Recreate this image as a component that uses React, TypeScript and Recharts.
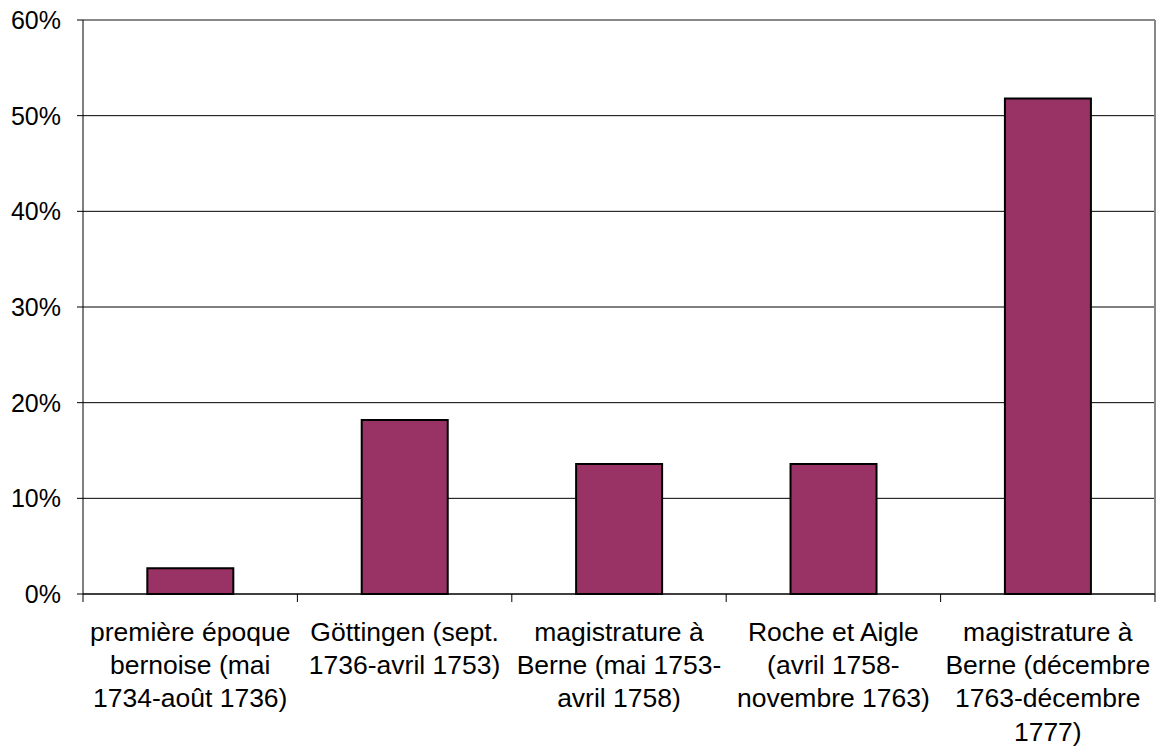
import React from 'react';
import { BarChart, Bar, XAxis, YAxis, CartesianGrid } from 'recharts';

const categories = [
  ['première époque', 'bernoise (mai', '1734-août 1736)'],
  ['Göttingen (sept.', '1736-avril 1753)'],
  ['magistrature à', 'Berne (mai 1753-', 'avril 1758)'],
  ['Roche et Aigle', '(avril 1758-', 'novembre 1763)'],
  ['magistrature à', 'Berne (décembre', '1763-décembre', '1777)'],
];
const values = [2.7, 18.2, 13.6, 13.6, 51.8];
const yTicks = [0, 10, 20, 30, 40, 50, 60];

const data = categories.map((lines, i) => ({ name: String(i), value: values[i] }));

const FONT = '"Liberation Sans", Arial, sans-serif';

const CatTick = (props: any) => {
  const { x, y, payload, index, visibleTicksCount } = props;
  const half = payload?.offset ?? 0;
  const lines = categories[Number(payload.value)] || [];
  const last = index === (visibleTicksCount ?? categories.length) - 1;
  return (
    <g>
      <line x1={x - half} x2={x - half} y1={y} y2={y + 8} stroke="#000" strokeWidth={1} />
      {last && <line x1={x + half} x2={x + half} y1={y} y2={y + 8} stroke="#000" strokeWidth={1} />}
      {lines.map((t: string, i: number) => (
        <text key={i} x={x} y={y + 47 + i * 33.2} textAnchor="middle" fill="#000" fontSize={26.5} fontFamily={FONT}>
          {t}
        </text>
      ))}
    </g>
  );
};

export default function App() {
  return (
    <div style={{ position: 'absolute', left: 0, top: 0, background: '#fff' }}>
      <BarChart width={1160} height={747} data={data} margin={{ top: 20, right: 5, left: 0, bottom: 0 }} barCategoryGap="30%">
        <CartesianGrid vertical={false} stroke="#000" strokeWidth={1} />
        <CartesianGrid
          stroke="#888"
          strokeWidth={2}
          horizontalCoordinatesGenerator={({ offset }: any) => [offset.top]}
          verticalCoordinatesGenerator={({ offset }: any) => [offset.left + offset.width]}
        />
        <XAxis
          dataKey="name"
          height={153}
          tickSize={0}
          tickMargin={0}
          tickLine={false}
          axisLine={{ stroke: '#000', strokeWidth: 1 }}
          tick={<CatTick />}
          interval={0}
        />
        <YAxis
          width={83}
          domain={[0, 60]}
          ticks={yTicks}
          tickFormatter={(v: number) => `${v}%`}
          tickSize={6}
          tickMargin={16}
          axisLine={{ stroke: '#000', strokeWidth: 1 }}
          tickLine={{ stroke: '#000' }}
          tick={{ fill: '#000', fontSize: 25, fontFamily: FONT }}
          interval={0}
        />
        <Bar dataKey="value" fill="#993366" stroke="#000" strokeWidth={2} isAnimationActive={false} />
      </BarChart>
    </div>
  );
}
